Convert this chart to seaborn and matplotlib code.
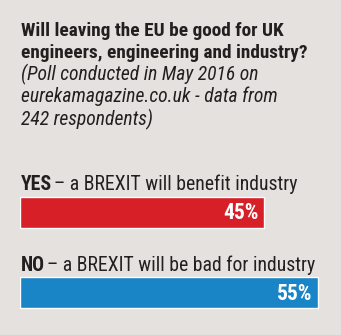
import matplotlib
matplotlib.use("Agg")
import matplotlib.pyplot as plt
import seaborn as sns
import pandas as pd

answers = ["YES", "NO"]
descriptions = ["– a BREXIT will benefit industry", "– a BREXIT will be bad for industry"]
percent = [45, 55]
colors = ["#d71f28", "#1a85c6"]
title_lines = ["Will leaving the EU be good for UK", "engineers, engineering and industry?"]
sub_lines = ["(Poll conducted in May 2016 on", "eurekamagazine.co.uk - data from", "242 respondents)"]

BG = "#e5e1de"
TXT = "#231f20"

sns.set_theme(style="white")
plt.rcParams["font.family"] = ["Roboto Condensed", "DejaVu Sans"]

W, H = 341, 335
fig = plt.figure(figsize=(W / 100, H / 100), dpi=100, facecolor=BG)

baselines = [36, 58]
for line, yb in zip(title_lines, baselines):
    fig.text(21 / W, 1 - yb / H, line, fontsize=13.9, fontweight="bold", color=TXT, va="baseline", ha="left")
sub_base = [80, 102, 125]
for line, yb in zip(sub_lines, sub_base):
    fig.text(21 / W, 1 - yb / H, line, fontsize=14.1, style="italic", color=TXT, va="baseline", ha="left")

ax = fig.add_axes([20 / W, 2 / H, 321 / W, 161 / H])
ax.set_facecolor(BG)
df = pd.DataFrame({"answer": answers, "percent": percent})
bw = 0.39
sns.barplot(data=df, x="percent", y="answer", hue="answer", palette=colors, legend=False,
            orient="h", width=bw, ax=ax, saturation=1)
ax.set_xlim(0, 59.2)
ax.set_ylim(1.5, -0.5)
ax.axis("off")

fig.canvas.draw()
for i, (a, d, p) in enumerate(zip(answers, descriptions, percent)):
    t = ax.text(0.2, i - bw / 2 - 0.08, a, fontsize=14.2, fontweight="bold", color=TXT, va="baseline", ha="left")
    ax.annotate(d, xy=(1, 0), xycoords=t, xytext=(1.5, 0), textcoords="offset points",
                fontsize=14.2, color=TXT, va="bottom", ha="left")
    ax.text(p - 1.0, i + 0.01, f"{p}%", fontsize=15.5, fontweight="bold", color="white", va="center", ha="right")

fig.savefig("out.png", dpi=100, facecolor=BG)
